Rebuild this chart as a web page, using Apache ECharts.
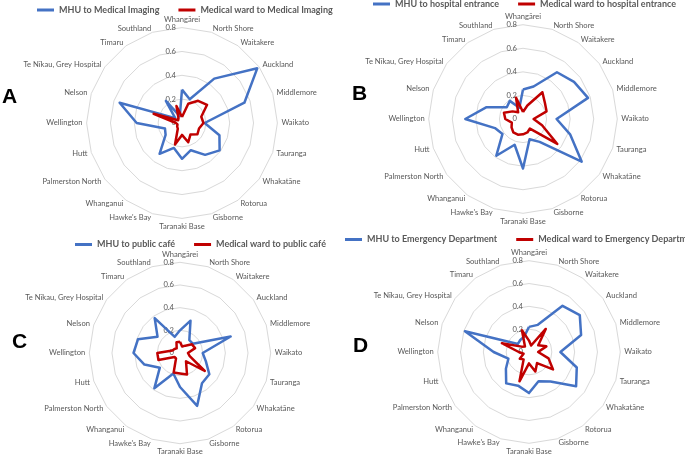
<!DOCTYPE html>
<html>
<head>
	<meta charset="utf-8">
	<title>Radar panels</title>
	<script src="https://cdn.jsdelivr.net/npm/echarts@6/dist/echarts.min.js"></script>
	<style>
		html, body { margin: 0; padding: 0; background: #fff; }
	</style>
</head>
<body>
	<div id="main" style="width: 685px; height: 455px"></div>
	<script type="text/javascript">
		var categories = ['Whangārei', 'North Shore', 'Waitakere', 'Auckland', 'Middlemore', 'Waikato',
			'Tauranga', 'Whakatāne', 'Rotorua', 'Gisborne', 'Taranaki Base', "Hawke's Bay", 'Whanganui',
			'Palmerston North', 'Hutt', 'Wellington', 'Nelson', 'Te Nīkau, Grey Hospital', 'Timaru', 'Southland'];
		var ticks = [0, 0.2, 0.4, 0.6, 0.8];

		// A - medical imaging
		var mhuImaging = [0.28, 0.21, 0.46, 0.78, 0.55, 0.19, 0.33, 0.39, 0.33, 0.24, 0.30, 0.22, 0.32, 0.17, 0.15, 0.38, 0.55, 0.07, 0.23, 0.06];
		var wardImaging = [0.05, 0.17, 0.23, 0.26, 0.17, 0.18, 0.15, 0.16, 0.12, 0.17, 0.10, 0.19, 0.06, 0.05, 0.04, 0.05, 0.25, 0.04, 0.05, 0.15];
		// B - hospital entrance
		var mhuEntrance = [0.25, 0.29, 0.49, 0.535, 0.58, 0.285, 0.42, 0.615, 0.24, 0.18, 0.42, 0.23, 0.385, 0.215, 0.25, 0.49, 0.325, 0.17, 0.19, 0.10];
		var wardEntrance = [0.06, 0.12, 0.28, 0.23, 0.21, 0.09, 0.17, 0.36, 0.10, 0.12, 0.13, 0.14, 0.14, 0.12, 0.10, 0.15, 0.17, 0.11, 0.07, 0.19];
		// C - public cafe
		var mhuCafe = [0.20, 0.30, 0.14, 0.14, 0.47, 0.20, 0.24, 0.32, 0.33, 0.49, 0.30, 0.19, 0.385, 0.22, 0.33, 0.41, 0.39, 0.245, 0.38, 0.15];
		var wardCafe = [0.10, 0.06, 0.08, 0.13, 0.14, 0.07, 0.09, 0.27, 0.09, 0.20, 0.18, 0.18, 0.06, 0.06, 0.20, 0.20, 0.07, 0.06, 0.05, 0.10];
		// D - emergency department
		var mhuED = [0.22, 0.25, 0.50, 0.55, 0.48, 0.275, 0.44, 0.51, 0.32, 0.27, 0.36, 0.31, 0.34, 0.25, 0.19, 0.31, 0.59, 0.12, 0.13, 0.14];
		var wardED = [0.10, 0.06, 0.25, 0.10, 0.16, 0.08, 0.18, 0.26, 0.12, 0.18, 0.10, 0.27, 0.08, 0.10, 0.05, 0.09, 0.25, 0.08, 0.06, 0.20];

		var panelLetters = ['A', 'B', 'C', 'D'];
		var blueNames = ['MHU to Medical Imaging', 'MHU to hospital entrance', 'MHU to public café', 'MHU to Emergency Department'];
		var redNames = ['Medical ward to Medical Imaging', 'Medical ward to hospital entrance', 'Medical ward to public café', 'Medical ward to Emergency Department'];

		var blueData = [mhuImaging, mhuEntrance, mhuCafe, mhuED];
		var redData = [wardImaging, wardEntrance, wardCafe, wardED];

		// layout of the four panels
		var centers = [[182, 123], [523, 119], [180, 353], [529, 352]];
		var radii = [95.4, 94.3, 90.7, 91.3];
		var legendPos = [[37, 5.5], [373, -0.5], [75, 240], [345, 235]];
		var letterPos = [[2, 97], [352, 94], [12, 342], [353, 346]];

		var BLUE = '#4472C4', RED = '#C00000', GREY = '#595959';
		var maxVal = ticks[ticks.length - 1];

		// echarts lays radar axes out anticlockwise; Excel goes clockwise.
		// keep the first axis on top and walk the rest backwards.
		var order = [0];
		for (var k = categories.length - 1; k > 0; k--) order.push(k);
		function reorder(arr) { return order.map(function (i) { return arr[i]; }); }

		function indicators() {
			return reorder(categories).map(function (c, i) {
				var ind = { name: c, min: 0, max: maxVal };
				if (i === 0) ind.axisLabel = { show: true };
				return ind;
			});
		}

		var radars = [], series = [], legends = [], graphics = [];
		for (var p = 0; p < 4; p++) {
			radars.push({
				center: centers[p],
				radius: radii[p],
				startAngle: 90,
				shape: 'polygon',
				splitNumber: ticks.length - 1,
				indicator: indicators(),
				axisName: { color: GREY, fontSize: 7.6, fontFamily: 'Lato' },
				axisNameGap: 4,
				axisLine: { show: false },
				axisTick: { show: false },
				axisLabel: { show: false, color: GREY, fontSize: 7.6, fontFamily: 'Lato', margin: 6 },
				splitLine: { lineStyle: { color: '#d9d9d9', width: 1 } },
				splitArea: { show: false }
			});
			series.push({
				type: 'radar',
				radarIndex: p,
				symbol: 'none',
				silent: true,
				data: [
					{ name: blueNames[p], value: reorder(blueData[p]), itemStyle: { color: BLUE }, lineStyle: { color: BLUE, width: 2.5 } },
					{ name: redNames[p], value: reorder(redData[p]), itemStyle: { color: RED }, lineStyle: { color: RED, width: 2.5 } }
				]
			});
			legends.push({
				data: [blueNames[p], redNames[p]],
				left: legendPos[p][0],
				top: legendPos[p][1],
				width: 500,
				padding: 0,
				icon: 'rect',
				itemWidth: 17,
				itemHeight: 3,
				itemGap: 19,
				selectedMode: false,
				textStyle: { color: GREY, fontSize: 9, fontWeight: 'bold', fontFamily: 'Lato' }
			});
			graphics.push({
				type: 'text',
				x: letterPos[p][0],
				y: letterPos[p][1],
				style: {
					text: panelLetters[p],
					fill: '#000',
					fontSize: 21,
					fontWeight: 'bold',
					fontFamily: 'Liberation Sans',
					verticalAlign: 'middle'
				}
			});
		}

		var myChart = echarts.init(document.getElementById('main'));
		myChart.setOption({
			animation: false,
			backgroundColor: '#fff',
			legend: legends,
			radar: radars,
			series: series,
			graphic: graphics
		});
	</script>
</body>
</html>
